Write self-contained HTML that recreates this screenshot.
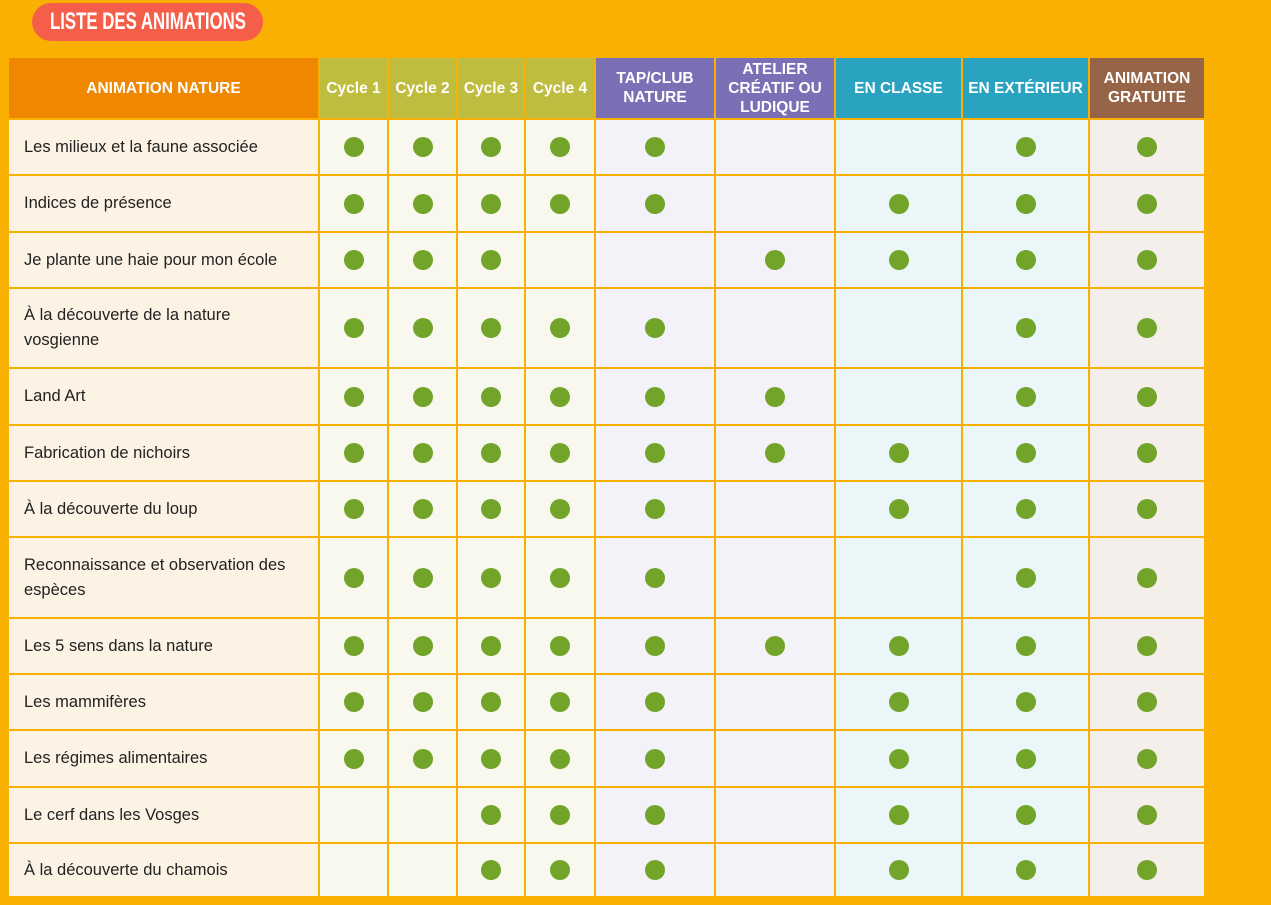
<!DOCTYPE html>
<html><head><meta charset="utf-8"><style>
body{margin:0;width:1271px;height:905px;background:#F9B000;position:relative;overflow:hidden;font-family:"Liberation Sans","DejaVu Sans",sans-serif}
#title{position:absolute;left:32px;top:3px;width:231px;height:38px;border-radius:19px;background:#F55E49;color:#fff;font:bold 24px "Liberation Sans",sans-serif;line-height:38px;white-space:nowrap;display:flex;justify-content:center;align-items:center}
#title span{display:block;flex-shrink:0;transform:scaleX(0.7);transform-origin:center}
.c{position:absolute;box-sizing:border-box;display:flex;align-items:center;justify-content:center;text-align:center}
.h{color:#fff;font-weight:bold;font-size:15.5px;line-height:19px}
.n{justify-content:flex-start;padding-left:15px;text-align:left;font-size:16.5px;color:#222;line-height:25px}
.d{width:20px;height:20px;border-radius:50%;background:#72A42A}
</style></head><body>
<div id="title"><span>LISTE DES ANIMATIONS</span></div>
<div id="tbl"></div>
<script>
const headers=["ANIMATION NATURE","Cycle 1","Cycle 2","Cycle 3","Cycle 4","TAP/CLUB<br>NATURE","ATELIER<br>CRÉATIF OU<br>LUDIQUE","EN CLASSE","EN EXTÉRIEUR","ANIMATION<br>GRATUITE"];
const names=["Les milieux et la faune associée","Indices de présence","Je plante une haie pour mon école","À la découverte de la nature<br>vosgienne","Land Art","Fabrication de nichoirs","À la découverte du loup","Reconnaissance et observation des<br>espèces","Les 5 sens dans la nature","Les mammifères","Les régimes alimentaires","Le cerf dans les Vosges","À la découverte du chamois"];
const marks=[
"111110011","111110111","111001111","111110011","111111011","111111111","111110111","111110011","111111111","111110111","111110111","001110111","001110111"];
const colX=[9,320,389,458,526,596,716,836,963,1090,1206];
const rowY=[58,120,176,233,289,369,426,482,538,619,675,731,788,844,898];
const headBg=["#EF8700","#BFBD40","#BFBD40","#BFBD40","#BFBD40","#7A70B5","#7A70B5","#29A3BF","#29A3BF","#966446"];
const cellBg=["#FCF3E5","#F8F8EE","#F8F8EE","#F8F8EE","#F8F8EE","#F3F2F8","#F3F2F8","#EAF6F8","#EAF6F8","#F5EFEB"];
const t=document.getElementById('tbl');
function cell(ci,ri){
 const el=document.createElement('div');el.className='c';
 el.style.left=colX[ci]+'px';el.style.top=rowY[ri]+'px';
 el.style.width=(colX[ci+1]-colX[ci]-2)+'px';el.style.height=(rowY[ri+1]-rowY[ri]-2)+'px';
 t.appendChild(el);return el;}
headers.forEach((h,i)=>{const el=cell(i,0);el.classList.add('h');el.style.background=headBg[i];el.innerHTML=h;

});
names.forEach((n,r)=>{
 const el=cell(0,r+1);el.classList.add('n');el.style.background=cellBg[0];el.innerHTML=n;
 
 
 for(let c=0;c<9;c++){const ce=cell(c+1,r+1);ce.style.background=cellBg[c+1];
  
  
  if(marks[r][c]==='1'){const d=document.createElement('div');d.className='d';
   
   
   ce.appendChild(d);}}
});
</script>
</body></html>
